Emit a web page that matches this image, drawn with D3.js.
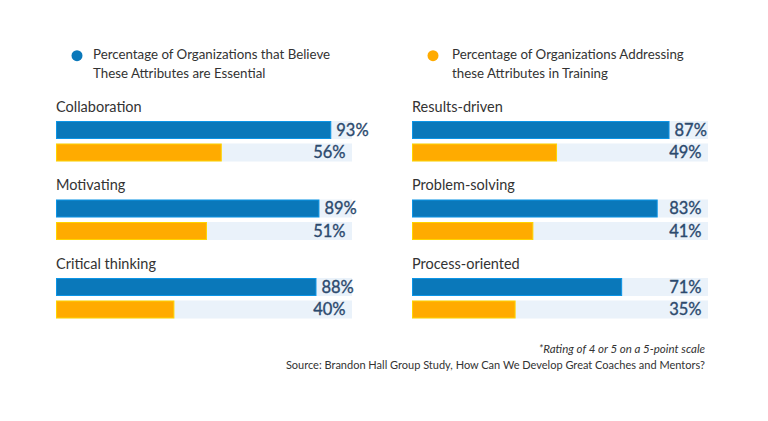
<!DOCTYPE html>
<html><head><meta charset="utf-8">
<script src="https://cdn.jsdelivr.net/npm/d3@7"></script>
<style>body{margin:0;background:#fff}svg{display:block}text{font-family:Lato,"Open Sans",sans-serif}</style>
</head><body><svg id="c" width="768" height="421"></svg>
<script>
const leftCategories = ["Collaboration","Motivating","Critical thinking"];
const leftEssential = [93, 89, 88];
const leftTraining = [56, 51, 40];
const rightCategories = ["Results-driven","Problem-solving","Process-oriented"];
const rightEssential = [87, 83, 71];
const rightTraining = [49, 41, 35];
const seriesNames = [["Percentage of Organizations that Believe","These Attributes are Essential"],["Percentage of Organizations Addressing","these Attributes in Training"]];
const footnotes = ["*Rating of 4 or 5 on a 5-point scale","Source: Brandon Hall Group Study, How Can We Develop Great Coaches and Mentors?"];
const colors = ["#0a78ba","#ffab00"];

const svg = d3.select("#c");
const x = d3.scaleLinear().domain([0,100]).range([0,296]);
const groupY = d3.scaleLinear().domain([0,1]).range([0,78.5]);
const barH = 18;

// legend
[[77,93],[433,452]].forEach((p,i)=>{
  svg.append("circle").attr("cx",p[0]).attr("cy",55.7).attr("r",5.5).attr("fill",colors[i]);
  seriesNames[i].forEach((t,j)=>svg.append("text").attr("x",p[1]).attr("y",59.3+j*18.5)
    .attr("font-size",13.3).attr("fill","#333").text(t));
});

function panel(x0, cats, ess, tr){
  const g = svg.append("g").attr("transform",`translate(${x0},0)`);
  cats.forEach((c,i)=>{
    const gy = groupY(i);
    g.append("text").attr("x",0).attr("y",111.7+gy).attr("font-size",14.5).attr("fill","#333").text(c);
    [[ess[i],121+gy,colors[0]],[tr[i],143.5+gy,colors[1]]].forEach(([v,y,col])=>{
      g.append("rect").attr("x",0).attr("y",y).attr("width",x(100)).attr("height",barH).attr("fill","#eaf2fa");
      g.append("rect").attr("x",0.5).attr("y",y+0.5).attr("width",x(v)-1).attr("height",barH-1)
        .attr("fill",col).attr("stroke",d3.color(col).brighter(0.6)).attr("stroke-width",1);
      const t = g.append("text").attr("y",y+barH/2).attr("dy","0.36em").attr("font-size",16.5)
        .attr("fill","#2c4a6e").attr("stroke","#2c4a6e").attr("stroke-width",0.35)
        .attr("text-anchor","end").text(v+"%");
      const w = t.node().getComputedTextLength();
      const right = Math.max(x(100)-6.5, x(v)+5+w);
      t.attr("x",right);
    });
  });
}
panel(56, leftCategories, leftEssential, leftTraining);
panel(412, rightCategories, rightEssential, rightTraining);

footnotes.forEach((t,i)=>svg.append("text").attr("x",705).attr("y",353+i*16).attr("text-anchor","end")
  .attr("font-size",i===0?11.5:11).attr("fill","#333").attr("font-style",i===0?"italic":"normal").text(t));
</script></body></html>
